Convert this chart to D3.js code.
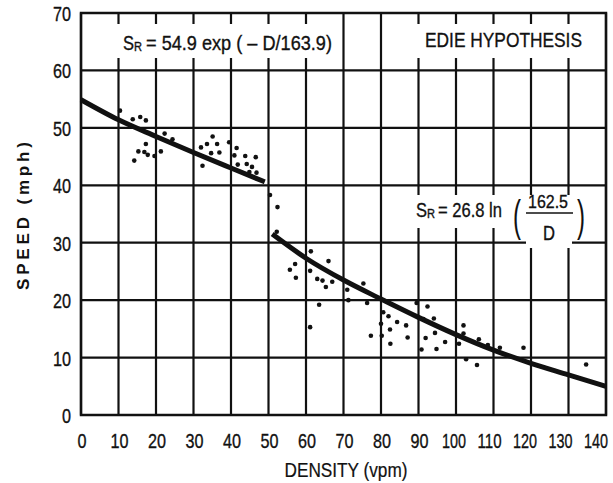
<!DOCTYPE html>
<html><head><meta charset="utf-8">
<script src="https://cdn.jsdelivr.net/npm/d3@7"></script>
<style>body{margin:0;background:#fff} svg{display:block}</style>
</head><body><svg id="c" width="613" height="483"></svg>
<script>
const densityTicks = [0,10,20,30,40,50,60,70,80,90,100,110,120,130,140];
const speedTicks = [0,10,20,30,40,50,60,70];

// Fitted curves
const freeFlowDensity = [0,10,20,30,40,49];
const freeFlowSpeed   = [54.9,51.4,48.5,45.7,43.0,40.6];
const congestedDensity = [51,60,70,80,90,100,110,120,130,140];
const congestedSpeed   = [31.5,27.3,23.5,20.2,17.0,14.0,11.3,9.0,7.0,5.0];

// Observations
const obsDensity = [10.4,13.8,15.8,17.3,17.3,15.3,14.2,16.9,17.8,19.6,21.3,22.3,24.4,32.0,33.6,35.1,36.3,34.7,36.9,32.4,39.5,41.5,40.9,43.8,46.6,41.8,44.2,45.6,46.8,44.9,
 50.4,52.4,52.2,61.3,66.0,57.1,55.7,57.3,61.1,63.0,64.4,65.3,67.0,71.0,75.3,71.3,63.5,76.3,61.1,80.6,82.0,80.0,82.4,77.3,80.2,
 84.3,86.7,82.5,87.1,89.5,92.4,91.3,94.1,94.4,91.9,97.1,94.8,90.8,102.0,102.0,100.8,106.1,108.5,102.7,105.6,111.7,118.0,134.7];
const obsSpeed = [53.0,51.5,51.9,51.3,47.2,45.9,44.3,45.8,45.3,45.1,45.9,49.0,48.0,46.6,47.2,48.5,47.2,45.6,45.7,43.4,47.5,46.5,45.2,45.1,44.9,43.6,43.7,43.2,42.2,42.3,
 38.3,36.2,31.9,28.5,26.8,26.3,25.3,23.9,25.1,23.7,23.4,22.3,23.2,21.8,22.9,20.0,19.2,19.5,15.3,17.9,17.2,15.9,14.9,13.8,13.8,
 16.2,15.6,12.4,13.5,19.5,18.9,16.7,16.8,14.3,13.4,12.7,11.5,11.4,15.6,14.2,12.4,13.2,12.2,9.7,8.7,11.7,11.7,8.8];

const svg = d3.select('#c');
const x = d3.scaleLinear().domain([0,140]).range([81,606]);
const y = d3.scaleLinear().domain([0,70]).range([415,13]);
const font = "'Liberation Sans',Arial,sans-serif";
const ink = '#111';

function txt(g, px, py, s, size, width, anchor){
  const t = g.append('text').attr('x',px).attr('y',py).attr('font-family',font)
    .attr('font-size',size).attr('fill',ink).attr('stroke',ink).attr('stroke-width',0.35)
    .attr('text-anchor',anchor||'start').text(s);
  if (width) t.attr('textLength',width).attr('lengthAdjust','spacingAndGlyphs');
  return t;
}

// grid
svg.append('g').selectAll('line').data(densityTicks).join('line')
  .attr('x1',d=>x(d)).attr('x2',d=>x(d)).attr('y1',y(0)).attr('y2',y(70))
  .attr('stroke',ink).attr('stroke-width',2.2);
svg.append('g').selectAll('line').data(speedTicks).join('line')
  .attr('y1',d=>y(d)).attr('y2',d=>y(d)).attr('x1',x(0)).attr('x2',x(140))
  .attr('stroke',ink).attr('stroke-width',2.2);

// white label boxes
[[95,24,239,34],[412,24,186,34],[409,195,191,33],[526,226,46,22]].forEach(b=>{
  svg.append('rect').attr('x',b[0]).attr('y',b[1]).attr('width',b[2]).attr('height',b[3]).attr('fill','#fff');
});

// border
svg.append('rect').attr('x',x(0)).attr('y',y(70)).attr('width',x(140)-x(0)).attr('height',y(0)-y(70))
  .attr('fill','none').attr('stroke',ink).attr('stroke-width',2.5);

// tick labels
const tg = svg.append('g');
densityTicks.forEach(d=>{
  const n = String(d).length;
  const shift = d >= 100 ? -(d - 90) / 5 : 1;
  txt(tg, x(d) + shift, 448, String(d), 21, n===3?24:n*9, 'middle');
});
speedTicks.forEach(d=>{
  const n = String(d).length;
  txt(tg, 71, y(d)+8, String(d), 21, n*9, 'end');
});

// axis titles
svg.append('text').attr('transform','translate(29,216) rotate(-90)').attr('text-anchor','middle')
  .attr('font-family',font).attr('font-weight','bold').attr('font-size',17)
  .attr('textLength',148).attr('lengthAdjust','spacing')
  .attr('fill',ink).text('SPEED (mph)');
txt(svg, 346, 477, 'DENSITY (vpm)', 20, 123, 'middle').attr('stroke-width',0.2);

// curves
const line = d3.line().x(d=>x(d[0])).y(d=>y(d[1])).curve(d3.curveMonotoneX);
svg.append('path').attr('d',line(freeFlowDensity.map((d,i)=>[d,freeFlowSpeed[i]])))
  .attr('fill','none').attr('stroke',ink).attr('stroke-width',5);
svg.append('path').attr('d',line(congestedDensity.map((d,i)=>[d,congestedSpeed[i]])))
  .attr('fill','none').attr('stroke',ink).attr('stroke-width',5);

// points
svg.append('g').selectAll('circle').data(obsDensity.map((d,i)=>[d,obsSpeed[i]])).join('circle')
  .attr('cx',d=>x(d[0])).attr('cy',d=>y(d[1])).attr('r',2.3).attr('fill',ink);

// annotations
const ag = svg.append('g');
txt(ag, 123, 50, 'S', 21, 11);
txt(ag, 134, 51, 'R', 13, 8);
txt(ag, 146, 50, '= 54.9 exp ( \u2013 D/163.9)', 21, 186);
txt(ag, 425, 47, 'EDIE HYPOTHESIS', 21, 157);

txt(ag, 416, 217, 'S', 21, 11);
txt(ag, 427, 218, 'R', 13, 8);
txt(ag, 438, 217, '= 26.8 ln', 21, 64);
txt(ag, 513, 231, '(', 44, 8).attr('stroke-width',0);
txt(ag, 577, 231, ')', 44, 8).attr('stroke-width',0);
txt(ag, 548, 208, '162.5', 19, 40, 'middle');
ag.append('line').attr('x1',526).attr('x2',573).attr('y1',213).attr('y2',213).attr('stroke',ink).attr('stroke-width',1.5);
txt(ag, 549, 240, 'D', 20, 12, 'middle');
</script></body></html>
